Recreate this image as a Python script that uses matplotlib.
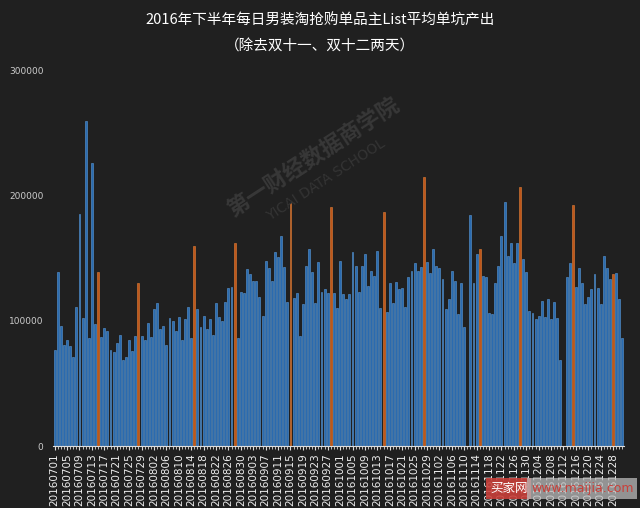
import numpy as np
import pandas as pd
import matplotlib
matplotlib.use("Agg")
import matplotlib.pyplot as plt

plt.rcParams['font.family'] = ['Noto Sans CJK SC', 'DejaVu Sans']

# 2016-07-01 .. 2016-12-31, 双十一 / 双十二 没有数据
dates = pd.date_range('2016-07-01', '2016-12-31').strftime('%Y%m%d').tolist()

values = [
    77000, 139000, 96000, 81000, 85000, 80000, 71000, 111000, 185000, 102000,
    259000, 86000, 226000, 97000, 139000, 87000, 94000, 92000, 77000, 75000,
    82000, 89000, 69000, 71000, 85000, 76000, 88000, 130000, 88000, 85000,
    98000, 87000, 109000, 114000, 93000, 96000, 81000, 102000, 100000, 92000,
    103000, 85000, 101000, 111000, 86000, 160000, 109000, 95000, 104000, 93000,
    101000, 89000, 114000, 103000, 100000, 115000, 126000, 127000, 162000, 86000,
    123000, 122000, 141000, 137000, 132000, 132000, 119000, 104000, 148000, 142000,
    132000, 155000, 151000, 168000, 143000, 115000, 194000, 118000, 122000, 88000,
    113000, 144000, 157000, 139000, 114000, 147000, 123000, 125000, 122000, 191000,
    122000, 110000, 148000, 121000, 117000, 121000, 155000, 144000, 123000, 144000,
    153000, 128000, 140000, 136000, 156000, 110000, 187000, 107000, 130000, 114000,
    131000, 125000, 126000, 111000, 135000, 140000, 146000, 140000, 143000, 215000,
    147000, 138000, 157000, 144000, 142000, 133000, 109000, 117000, 140000, 132000,
    105000, 130000, 95000, None, 184000, 130000, 153000, 157000, 136000, 135000,
    106000, 105000, 130000, 144000, 168000, 195000, 152000, 162000, 146000, 162000,
    207000, 149000, 139000, 108000, 106000, 101000, 104000, 116000, 103000, 117000,
    101000, 115000, 102000, 69000, None, 135000, 146000, 192000, 127000, 142000,
    130000, 113000, 119000, 125000, 137000, 126000, 113000, 152000, 142000, 133000,
    137000, 138000, 117000, 86000,
]

# 每月15日、28日 标橙
orange_days = ['20160715', '20160728', '20160815', '20160828', '20160915', '20160928',
               '20161015', '20161028', '20161115', '20161128', '20161215', '20161228']

bg = '#202020'
fig = plt.figure(figsize=(6.4, 5.08), dpi=100, facecolor=bg)
ax = fig.add_axes([0.083, 0.122, 0.892, 0.74], facecolor=bg)

x = np.arange(len(dates))
heights = [0 if v is None else v for v in values]
face = ['#c0561a' if d in orange_days else '#2a6bb0' for d in dates]
edge = ['#e0803a' if d in orange_days else '#5a9ad8' for d in dates]
ax.bar(x, heights, width=0.62, color=face, edgecolor=edge, linewidth=0.4)

ax.set_xlim(-0.5, len(dates) - 0.5)
ax.set_ylim(0, 300000)
ax.set_yticks([0, 100000, 200000, 300000])
ax.set_yticklabels(['0', '100000', '200000', '300000'], family='DejaVu Sans')

ax.set_xticks(x[::4])
ax.set_xticklabels(dates[::4], rotation=90, family='DejaVu Sans')
ax.set_xticks(x, minor=True)

for s in ['top', 'right', 'left']:
    ax.spines[s].set_visible(False)
ax.spines['bottom'].set_color('#dddddd')
ax.spines['bottom'].set_linewidth(0.8)

ax.tick_params(axis='y', length=0, colors='#cccccc', labelsize=6.5, pad=7)
ax.tick_params(axis='x', which='major', length=3, color='#dddddd', colors='#eeeeee',
               labelsize=7.5, pad=2)
ax.tick_params(axis='x', which='minor', length=2, color='#dddddd')

fig.text(0.5, 0.960, '2016年下半年每日男装淘抢购单品主List平均单坑产出',
         ha='center', va='center', color='white', fontsize=10.5)
fig.text(0.5, 0.909, '（除去双十一、双十二两天）',
         ha='center', va='center', color='white', fontsize=10.5)

# 水印
fig.text(0.49, 0.69, '第一财经数据商学院', rotation=33, ha='center', va='center',
         color='#383838', fontsize=16, fontweight='bold')
fig.text(0.51, 0.645, 'YICAI DATA SCHOOL', rotation=33, ha='center', va='center',
         color='#343434', fontsize=10, family='DejaVu Sans')
fig.text(0.795, 0.038, '买家网', ha='center', va='center', color='white', fontsize=9,
         bbox=dict(boxstyle='square,pad=0.3', fc='#c9403a', ec='none', alpha=0.9))
fig.text(0.91, 0.038, 'www.maijia.com', ha='center', va='center', color='#c9403a',
         fontsize=9, family='DejaVu Sans',
         bbox=dict(boxstyle='square,pad=0.3', fc='#bbbbbb', ec='none', alpha=0.75))

fig.savefig('out.png', dpi=100, facecolor=bg)
